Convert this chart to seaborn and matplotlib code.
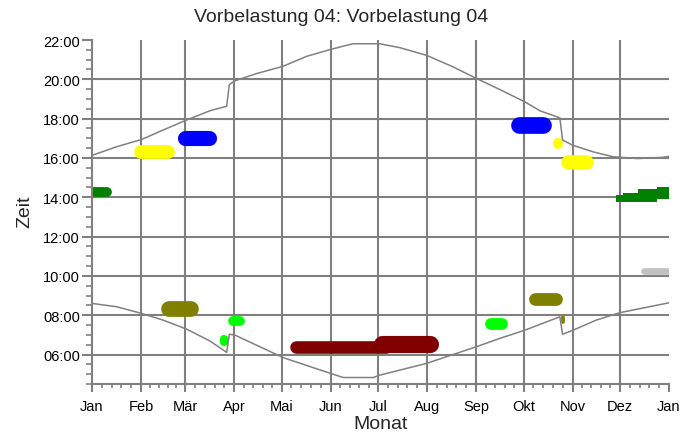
import matplotlib
matplotlib.use("Agg")
import matplotlib.pyplot as plt
import numpy as np
import seaborn as sns
from matplotlib.ticker import FixedLocator, FuncFormatter

# month starts (day of year) and labels
month_starts = [0, 31, 59, 90, 120, 151, 181, 212, 243, 273, 304, 334, 365]
month_labels = ["Jan", "Feb", "Mär", "Apr", "Mai", "Jun", "Jul",
                "Aug", "Sep", "Okt", "Nov", "Dez", "Jan"]

# sunset / sunrise curves (day of year, hour)
sunset_day = [0, 15.6, 31.4, 45, 59.5, 74.6, 85.2, 86.9, 90.2, 104, 120.8, 135.8,
              150.5, 161, 165.3, 182, 194.8, 211.7, 228.5, 243.3, 258, 273.9,
              283.4, 296, 297.7, 304, 317, 329.7, 345, 361, 365]
sunset_h = [16.13, 16.57, 16.94, 17.42, 17.92, 18.40, 18.63, 19.73, 19.92, 20.29,
            20.66, 21.17, 21.51, 21.73, 21.81, 21.81, 21.61, 21.22, 20.63, 20.04,
            19.48, 18.85, 18.40, 18.04, 16.91, 16.65, 16.31, 16.06, 15.97, 16.03, 16.08]

sunrise_day = [0, 15.6, 31.4, 45, 59.9, 74.6, 85.2, 86.9, 90.4, 121, 150.5, 159,
               178, 182, 211.7, 243.3, 258, 273.9, 296, 297.7, 304.4, 319, 334, 365]
sunrise_h = [8.60, 8.43, 8.09, 7.75, 7.29, 6.69, 6.11, 7.03, 6.99, 5.84, 5.05, 4.83,
             4.83, 4.95, 5.55, 6.40, 6.82, 7.24, 7.92, 7.03, 7.24, 7.75, 8.13, 8.63]

# load periods (blobs): colour, first day, last day, earliest hour, latest hour
blob_color = ["#008000", "#ffff00", "#0000ff", "#808000", "#00ff00", "#00ff00",
              "#800000", "#800000", "#00ff00", "#808000", "#808000", "#0000ff",
              "#ffff00", "#ffff00", "#c0c0c0"]
blob_start = [0, 26.8, 54.2, 43.6, 85.8, 81.0, 124.8, 178, 248.6, 276.0, 296.6,
              265.0, 291.8, 296.6, 347.0]
blob_end = [12.4, 52.5, 78.9, 67.7, 96.8, 86.2, 190, 219, 263.0, 297.7, 299.0,
            290.8, 298.0, 317.0, 365]
blob_low = [14.0, 15.95, 16.65, 7.92, 7.45, 6.45, 6.06, 6.08, 7.24, 8.51, 7.58,
            17.24, 16.48, 15.42, 10.07]
blob_high = [14.5, 16.65, 17.42, 8.72, 7.95, 6.99, 6.70, 6.95, 7.84, 9.16, 8.0,
             18.09, 17.03, 16.16, 10.41]

# December block (stepped shape)
dec_day = [331.4, 336, 345.5, 357.2, 365]
dec_low = [13.76, 13.76, 13.76, 13.93, 13.93]
dec_high = [14.1, 14.22, 14.4, 14.52, 14.52]

GRAY = "#808080"
DPI = 100

sns.set_theme(style="white")
plt.rcParams["font.family"] = ["Liberation Sans", "DejaVu Sans"]

fig = plt.figure(figsize=(6.99, 4.39), dpi=DPI)
ax = fig.add_axes([0.1316, 0.123, 0.957 - 0.1316, 0.9066 - 0.123])
x_min, x_max = 0, 365
y_min, y_max = 4.5, 22.0
ax.set_xlim(x_min, x_max)
ax.set_ylim(y_min, y_max)

# grid
for d in month_starts[1:-1]:
    ax.axvline(d, color=GRAY, lw=1.5, zorder=0)
for h in range(6, 22, 2):
    ax.axhline(h, color=GRAY, lw=1.5, zorder=0)

# pixel scale of the axes, used to size the blob strokes
ax_w_px = (0.957 - 0.1316) * 6.99 * DPI
ax_h_px = (0.9066 - 0.123) * 4.39 * DPI
px_per_day = ax_w_px / (x_max - x_min)
px_per_hour = ax_h_px / (y_max - y_min)


def draw_blob(color, d0, d1, t0, t1):
    w_px = (d1 - d0) * px_per_day
    h_px = (t1 - t0) * px_per_hour
    if w_px >= h_px:
        r = h_px / 2 / px_per_day
        a = d0 if d0 <= x_min else d0 + r
        b = d1 if d1 >= x_max else d1 - r
        xs, ys, lw = [a, b], [(t0 + t1) / 2] * 2, h_px
    else:
        r = w_px / 2 / px_per_hour
        xs, ys, lw = [(d0 + d1) / 2] * 2, [t0 + r, t1 - r], w_px
    ax.plot(xs, ys, color=color, lw=lw * 72 / DPI, solid_capstyle="round", zorder=2)


for c, d0, d1, t0, t1 in zip(blob_color, blob_start, blob_end, blob_low, blob_high):
    draw_blob(c, d0, d1, t0, t1)

ax.fill_between(dec_day, dec_low, dec_high, step="post", color="#008000",
                lw=0, zorder=2)

sns.lineplot(x=sunset_day, y=sunset_h, ax=ax, color=GRAY, lw=1.1, sort=False, zorder=3)
sns.lineplot(x=sunrise_day, y=sunrise_h, ax=ax, color=GRAY, lw=1.1, sort=False, zorder=3)

# axes styling
for side in ["top", "right"]:
    ax.spines[side].set_visible(False)
for side in ["left", "bottom"]:
    ax.spines[side].set_color(GRAY)
    ax.spines[side].set_linewidth(1.5)

ax.set_xticks(month_starts)
ax.set_xticklabels(month_labels)
minor_x = []
for a, b in zip(month_starts[:-1], month_starts[1:]):
    minor_x += [a + k * (b - a) / 5 for k in range(1, 5)]
ax.xaxis.set_minor_locator(FixedLocator(minor_x))

ax.set_yticks(range(6, 23, 2))
ax.yaxis.set_major_formatter(FuncFormatter(lambda v, p: f"{int(v):02d}:00"))
ax.yaxis.set_minor_locator(FixedLocator(np.arange(4.5, 22.01, 0.5)))

ax.tick_params(axis="both", which="both", direction="out", color=GRAY,
               labelsize=10.5, labelcolor="black")
ax.tick_params(axis="y", which="major", length=7.2, width=1.5, pad=1.5, left=True)
ax.tick_params(axis="y", which="minor", length=4.3, width=1.2, left=True)
ax.tick_params(axis="x", which="major", length=5.8, width=1.5, pad=5, bottom=True)
ax.tick_params(axis="x", which="minor", length=3.2, width=1.2, bottom=True)
ax.grid(False)
ax.set_xlabel("")
ax.set_ylabel("")

fig.text(0.488, 0.959, "Vorbelastung 04: Vorbelastung 04", ha="center", va="center",
         fontsize=14)
fig.text(0.544, 0.032, "Monat", ha="center", va="center", fontsize=14)
fig.text(0.036, 0.517, "Zeit", ha="center", va="center", rotation=90, fontsize=14)

fig.savefig("out.png", dpi=DPI)
